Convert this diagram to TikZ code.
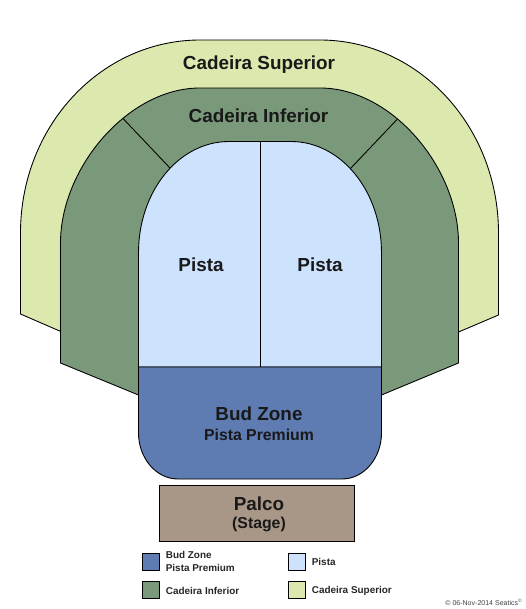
\documentclass[tikz,border=0pt]{standalone}
\usepackage{fontspec}
\setmainfont{Liberation Sans}
\definecolor{superiorgreen}{HTML}{DBE8AE}
\definecolor{inferiorgreen}{HTML}{7A987A}
\definecolor{pistablue}{HTML}{CDE2FD}
\definecolor{budblue}{HTML}{5E7BB2}
\definecolor{palcobrown}{HTML}{A89786}
\tikzset{
    zone/.style={draw=black, line width=0.5pt},
    bigtext/.style={font=\fontsize{10.75}{13}\bfseries\selectfont, text=black!90},
    subtext/.style={font=\fontsize{9}{11}\bfseries\selectfont, text=black!90},
    keytext/.style={font=\fontsize{5.65}{7.4}\bfseries\selectfont, anchor=west, align=left, inner sep=0pt, text=black!85},
}
\begin{document}
\begin{tikzpicture}[x=0.02cm, y=-0.02cm]
    \useasboundingbox (0,0) rectangle (525,609);

    % outer ring
    \draw[zone, fill=superiorgreen] (20.5,314) -- (20.5,233)
        .. controls (20.5,126) and (101,40) .. (200,40) -- (320,40)
        .. controls (418,40) and (498.5,126) .. (498.5,233)
        -- (498.5,315) -- (381,365) -- (138,365) -- cycle;

    % inferior ring
    \draw[zone, fill=inferiorgreen] (60.5,363) -- (60.5,243)
        .. controls (60.5,168) and (128,88) .. (200,88) -- (320,88)
        .. controls (392,88) and (458.5,168) .. (458.5,243)
        -- (458.5,363) -- (381.5,395) -- (138.5,395) -- cycle;
    \draw[zone] (123,118.5) -- (170,168);
    \draw[zone] (397,119.5) -- (350,169);

    % floor
    \draw[zone, fill=pistablue] (138.5,367) -- (138.5,253)
        .. controls (138.5,191) and (179,141.5) .. (229,141.5) -- (291,141.5)
        .. controls (341,141.5) and (381.5,191) .. (381.5,253)
        -- (381.5,367) -- cycle;
    \draw[zone] (260,141.5) -- (260,367);

    % bud zone
    \draw[zone, fill=budblue] (138.5,367) -- (138.5,433)
        .. controls (138.5,458) and (156,479) .. (178,479) -- (342,479)
        .. controls (364,479) and (381.5,458) .. (381.5,433)
        -- (381.5,367) -- cycle;

    \draw[zone, fill=palcobrown] (159.5,485) rectangle (354,541);

    \node[bigtext] (superior) at (259,65) {Cadeira Superior};
    \node[bigtext] (inferior) at (258.5,116) {Cadeira Inferior};
    \node[bigtext] (pistaleft) at (201,265) {Pista};
    \node[bigtext] (pistaright) at (320,265) {Pista};
    \node[bigtext] (budzone) at (259,414) {Bud Zone};
    \node[subtext] (premium) at (259,434.5) {Pista Premium};
    \node[bigtext] (palco) at (259,503.5) {Palco};
    \node[subtext] (stage) at (259,524) {(Stage)};

    % legend
    \foreach \xx/\yy/\col in {142.5/553/budblue, 288/553/pistablue, 142.5/581/inferiorgreen, 288/581/superiorgreen} {
        \draw[zone, fill=\col] (\xx,\yy) rectangle ++(17.3,17.3);
    }
    \node[keytext] (keybud) at (165.5,561.5) {Bud Zone\\Pista Premium};
    \node[keytext] (keypista) at (311.5,561.5) {Pista};
    \node[keytext] (keyinferior) at (165.5,590.5) {Cadeira Inferior};
    \node[keytext] (keysuperior) at (311.5,590.5) {Cadeira Superior};

    \node[font=\fontsize{4}{5}\selectfont, anchor=east, inner sep=0pt, text=black!75] (copyright) at (523,602.5) {© 06-Nov-2014 Seatics\textsuperscript{©}};
\end{tikzpicture}
\end{document}
